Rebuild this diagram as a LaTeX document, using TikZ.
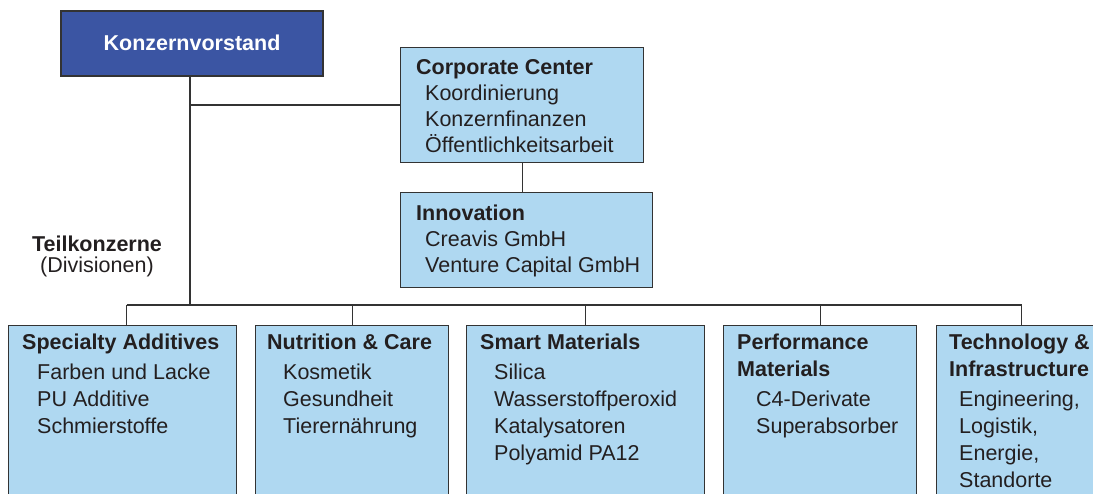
\documentclass[tikz,border=0pt]{standalone}
\usepackage{fontspec}
\setmainfont{Liberation Sans}
\usepackage{xcolor}
\usetikzlibrary{positioning, calc}

\definecolor{boardblue}{HTML}{3B55A3}
\definecolor{unitblue}{HTML}{AFD8F1}
\definecolor{linegray}{HTML}{333333}
\definecolor{textgray}{HTML}{231F20}

\tikzset{
  unit/.style={draw=linegray, line width=1.2pt, fill=unitblue, rectangle,
    inner sep=0pt, anchor=north west},
  unittext/.style={anchor=north west, inner sep=0pt, align=left, text=textgray,
    font=\fontsize{21.5}{26}\selectfont},
  divtext/.style={unittext, font=\fontsize{21.5}{27}\selectfont},
  wire/.style={draw=linegray, line width=1.2pt}
}
\newcommand{\ind}[1]{\hspace*{#1pt}}

\begin{document}
\begin{tikzpicture}[x=1pt, y=-1pt]
\useasboundingbox (0,0) rectangle (1093,494);
\clip (0,0) rectangle (1093,494);

% board and central functions
\node[unit, fill=boardblue, minimum width=262pt, minimum height=65pt,
  text=white, font=\fontsize{21.5}{26}\selectfont\bfseries, anchor=center]
  (kv) at (192,43.5) {\raisebox{1.5pt}{Konzernvorstand}};
\node[unit, minimum width=243pt, minimum height=115pt] (cc) at (400,47) {};
\node[unit, minimum width=252pt, minimum height=95pt] (inno) at (400,192) {};

\node[unittext] (cc-txt) at ([xshift=16pt, yshift=-12pt]cc.north west)
  {\textbf{Corporate Center}\\\ind{9}Koordinierung\\\ind{9}Konzernfinanzen\\\ind{9}Öffentlichkeitsarbeit};
\node[unittext] (inno-txt) at ([xshift=16pt, yshift=-13pt]inno.north west)
  {\textbf{Innovation}\\\ind{9}Creavis GmbH\\\ind{9}Venture Capital GmbH};

% divisions
\node[unit, minimum width=228pt, minimum height=200pt] (sa) at (8,325) {};
\node[unit, minimum width=193pt, minimum height=200pt] (nc) at (255,325) {};
\node[unit, minimum width=238pt, minimum height=200pt] (sm) at (466,325) {};
\node[unit, minimum width=193pt, minimum height=200pt] (pm) at (723,325) {};
\node[unit, minimum width=170pt, minimum height=200pt] (ti) at (936,325) {};

\node[divtext] (sa-txt) at ([xshift=14pt, yshift=-9pt]sa.north west)
  {\textbf{Specialty Additives}\\[3pt]\ind{15}Farben und Lacke\\\ind{15}PU Additive\\\ind{15}Schmierstoffe};
\node[divtext] (nc-txt) at ([xshift=12pt, yshift=-9pt]nc.north west)
  {\textbf{Nutrition \& Care}\\[3pt]\ind{16}Kosmetik\\\ind{16}Gesundheit\\\ind{16}Tierernährung};
\node[divtext] (sm-txt) at ([xshift=14pt, yshift=-9pt]sm.north west)
  {\textbf{Smart Materials}\\[3pt]\ind{14}Silica\\\ind{14}Wasserstoffperoxid\\\ind{14}Katalysatoren\\\ind{14}Polyamid PA12};
\node[divtext] (pm-txt) at ([xshift=14pt, yshift=-9pt]pm.north west)
  {\textbf{Performance}\\\textbf{Materials}\\[3pt]\ind{19}C4-Derivate\\\ind{19}Superabsorber};
\node[divtext] (ti-txt) at ([xshift=13pt, yshift=-9pt]ti.north west)
  {\textbf{Technology \&}\\\textbf{Infrastructure}\\[3pt]\ind{10}Engineering,\\\ind{10}Logistik,\\\ind{10}Energie,\\\ind{10}Standorte};

% label of the division level
\node[anchor=base, inner sep=0pt, text=textgray, font=\fontsize{21.5}{26}\selectfont\bfseries]
  (tk) at (97,252) {Teilkonzerne};
\node[anchor=base, inner sep=0pt, text=textgray, font=\fontsize{21.5}{26}\selectfont]
  (div) at (97,273) {(Divisionen)};

% connectors
\coordinate (bus) at (0,305);
\draw[wire] ([xshift=-2pt]kv.south) -- ([xshift=-2pt]kv.south |- bus);
\draw[wire] (cc.west) -- ([xshift=-2pt]cc.west -| kv.south);
\draw[wire] (cc.south) -- (cc.south |- inno.north);
\draw[wire] ([xshift=4pt]sa.north |- bus) -- (ti.north |- bus);
\draw[wire] ([xshift=4pt]sa.north) -- ([xshift=4pt]sa.north |- bus);
\foreach \d in {nc, sm, pm, ti}
  \draw[wire] (\d.north) -- (\d.north |- bus);
\end{tikzpicture}
\end{document}
